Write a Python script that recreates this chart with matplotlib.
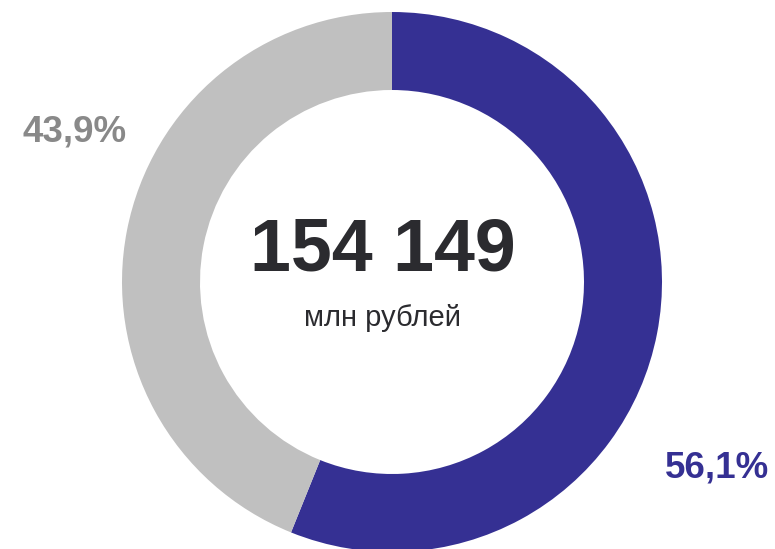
import matplotlib
matplotlib.use("Agg")
import matplotlib.pyplot as plt

# shares of the total, in percent
shares = [56.1, 43.9]
share_labels = ["56,1%", "43,9%"]
total_value = "154 149"
total_unit = "млн рублей"

BLUE = "#353093"
GREY = "#c0c0c0"
GREY_TEXT = "#898989"
DARK = "#2b2b2f"

plt.rcParams["font.family"] = ["Liberation Sans", "DejaVu Sans"]

W, H = 775, 549
fig = plt.figure(figsize=(W / 100, H / 100), dpi=100, facecolor="white")
ax = fig.add_axes([0, 0, 1, 1])

cx, cy, r_out, r_in = 392, H - 282, 270, 192
ax.pie(shares, colors=[BLUE, GREY], startangle=90, counterclock=False,
       center=(cx, cy), radius=r_out, frame=True,
       wedgeprops={"width": r_out - r_in, "linewidth": 0})
ax.set_xlim(0, W)
ax.set_ylim(0, H)
ax.set_aspect("equal")
ax.axis("off")

ax.text(717, H - 468, share_labels[0], ha="center", va="center",
        fontsize=26.5, fontweight="bold", color=BLUE)
ax.text(75, H - 132, share_labels[1], ha="center", va="center",
        fontsize=26.5, fontweight="bold", color=GREY_TEXT)

ax.text(383, H - 251, total_value, ha="center", va="center",
        fontsize=53, fontweight="bold", color=DARK)
ax.text(382, H - 318, total_unit, ha="center", va="center",
        fontsize=21, color=DARK)

fig.savefig("out.png", dpi=100, facecolor="white")
